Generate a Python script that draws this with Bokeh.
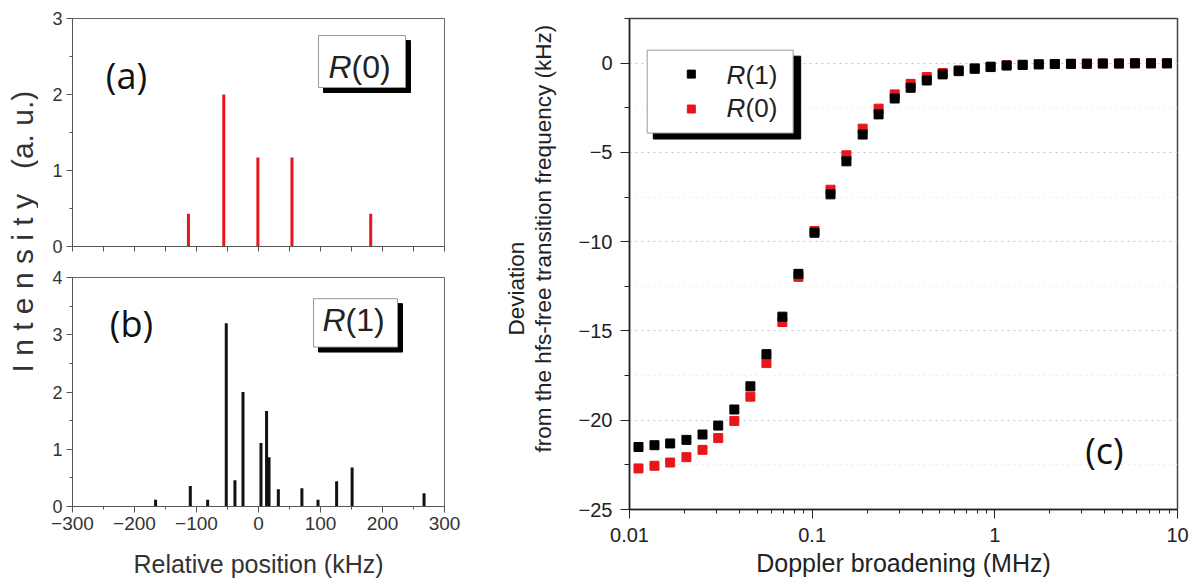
import math
from bokeh.plotting import figure
from bokeh.layouts import row, column
from bokeh.models import (Range1d, SingleIntervalTicker, LogTicker, FixedTicker,
                          NumeralTickFormatter, Label, BoxAnnotation)
from bokeh.embed import file_html
from bokeh.resources import INLINE

# ---------------- data ----------------
# (a) R(0) hyperfine components
r0_position_khz = [-113, -56, -1, 54, 181]
r0_intensity = [0.43, 2.0, 1.17, 1.17, 0.43]

# (b) R(1) hyperfine components
r1_position_khz = [-166, -110, -82, -52, -38, -25, 4, 13, 17, 32, 70, 96, 126, 151, 267]
r1_intensity = [0.12, 0.36, 0.12, 3.2, 0.46, 2.0, 1.11, 1.67, 0.86, 0.30, 0.32, 0.12, 0.44, 0.68, 0.23]

# (c) deviation vs Doppler broadening
doppler_mhz = [0.0112, 0.0137, 0.0167, 0.0205, 0.0251, 0.0306, 0.0375, 0.0459, 0.0562, 0.0687,
               0.0841, 0.103, 0.126, 0.154, 0.189, 0.231, 0.283, 0.346, 0.424, 0.518,
               0.634, 0.776, 0.948, 1.16, 1.42, 1.74, 2.13, 2.61, 3.19, 3.90,
               4.78, 5.85, 7.16, 8.75]
dev_r1_khz = [-21.5, -21.4, -21.3, -21.1, -20.8, -20.3, -19.4, -18.1, -16.3, -14.2,
              -11.8, -9.5, -7.35, -5.5, -4.0, -2.87, -1.98, -1.38, -0.97, -0.63,
              -0.45, -0.32, -0.22, -0.13, -0.10, -0.07, -0.05, -0.04, -0.03, -0.02,
              -0.02, -0.01, -0.01, -0.01]
dev_r0_khz = [-22.7, -22.55, -22.37, -22.07, -21.66, -21.0, -20.04, -18.68, -16.8, -14.5,
              -11.97, -9.4, -7.09, -5.16, -3.67, -2.55, -1.75, -1.16, -0.78, -0.55,
              -0.40, -0.28, -0.19, -0.12, -0.09, -0.06, -0.05, -0.04, -0.03, -0.02,
              -0.02, -0.01, -0.01, -0.01]

FONT = "Liberation Sans"
PANEL_FONT = "Open Sans"
RED = "#e8161b"
TOTAL_H = 581
FRAME_TOP, FRAME_BOTTOM = 18, 509   # frame of panel (c); label columns share it


def style_axis(ax, size, color, line_color, tick_out, minor_out, standoff):
    ax.major_label_text_font = FONT
    ax.major_label_text_font_size = size
    ax.major_label_text_color = color
    ax.axis_line_color = line_color
    ax.major_tick_line_color = line_color
    ax.minor_tick_line_color = line_color
    ax.major_tick_in = 0
    ax.minor_tick_in = 0
    ax.major_tick_out = tick_out
    ax.minor_tick_out = minor_out
    ax.major_label_standoff = standoff
    ax.axis_label_text_font = FONT
    ax.axis_label_text_font_style = "normal"
    ax.axis_label_text_color = color


def legend_box(p, left, right, bottom, top, dx, dy):
    p.add_layout(BoxAnnotation(left=left + dx, right=right + dx, bottom=bottom - dy, top=top - dy,
                               fill_color="black", fill_alpha=1, line_color="black", line_alpha=1))
    p.add_layout(BoxAnnotation(left=left, right=right, bottom=bottom, top=top,
                               fill_color="white", fill_alpha=1, line_color="#999999",
                               line_alpha=1, line_width=1))


def rlabel(p, x, y, digit, size, r_width):
    p.add_layout(Label(x=x, y=y, text="R", text_font=FONT, text_font_style="italic",
                       text_font_size=size, text_align="left", text_baseline="middle",
                       text_color="#222222"))
    p.add_layout(Label(x=x, y=y, x_offset=r_width, text="(" + digit + ")", text_font=FONT,
                       text_font_size=size, text_align="left", text_baseline="middle",
                       text_color="#222222"))


def label_column(width):
    # y data coordinate == pixel row of the page
    f = figure(width=width, height=TOTAL_H, x_range=Range1d(0, width),
               y_range=Range1d(FRAME_BOTTOM, FRAME_TOP),
               x_axis_type=None, y_axis_type=None, min_border_left=0, min_border_right=0,
               min_border_top=FRAME_TOP, min_border_bottom=TOTAL_H - FRAME_BOTTOM,
               outline_line_color=None, toolbar_location=None, output_backend="svg")
    return f


# ---------------- y label column ----------------
lab1 = label_column(38)
lab1.add_layout(Label(x=22, y=372, text="I n t e n s i t y\u00a0\u00a0\u00a0(a. u.)",
                      angle=math.pi / 2, text_font=FONT, text_font_size="30px",
                      text_align="left", text_baseline="middle", text_color="#333333"))

# ---------------- panel (a) ----------------
pa = figure(width=440, height=261, x_range=Range1d(-300, 300), y_range=Range1d(0, 3),
            min_border_left=34, min_border_right=34, min_border_top=18, min_border_bottom=15,
            toolbar_location=None, output_backend="svg", outline_line_color="#666666")
pa.grid.visible = False
pa.segment(x0=r0_position_khz, y0=0, x1=r0_position_khz, y1=r0_intensity,
           line_width=3, line_color=RED)
pa.xaxis.ticker = FixedTicker(ticks=[], minor_ticks=list(range(-300, 301, 50)))
pa.yaxis.ticker = SingleIntervalTicker(interval=1, num_minor_ticks=2)
style_axis(pa.xaxis[0], "18px", "#333333", "#555555", 6, 5, 0)
style_axis(pa.yaxis[0], "18px", "#333333", "#555555", 6, 3, 4)
legend_box(pa, 96.8, 237.0, 2.092, 2.776, 8.1, 0.066)
rlabel(pa, 112.9, 2.36, "0", "32px", 23)
pa.add_layout(Label(x=-213, y=2.25, text="(a)", text_font=PANEL_FONT, text_font_size="36px",
                    text_align="center", text_baseline="middle", text_color="#111111"))

# ---------------- panel (b) ----------------
pb = figure(width=440, height=TOTAL_H - 261, x_range=Range1d(-300, 300), y_range=Range1d(0, 4),
            min_border_left=34, min_border_right=34, min_border_top=16, min_border_bottom=75,
            toolbar_location=None, output_backend="svg", outline_line_color="#666666")
pb.grid.visible = False
pb.segment(x0=r1_position_khz, y0=0, x1=r1_position_khz, y1=r1_intensity,
           line_width=3, line_color="#111111")
pb.xaxis.ticker = SingleIntervalTicker(interval=100, num_minor_ticks=2)
pb.yaxis.ticker = SingleIntervalTicker(interval=1, num_minor_ticks=2)
style_axis(pb.xaxis[0], "19px", "#333333", "#555555", 6, 3, 4)
style_axis(pb.yaxis[0], "18px", "#333333", "#555555", 6, 3, 4)
pb.xaxis.axis_label = "Relative position (kHz)"
pb.xaxis.axis_label_text_font_size = "25px"
pb.xaxis.axis_label_standoff = 17
legend_box(pb, 88.7, 224.2, 2.785, 3.63, 8.1, 0.087)
rlabel(pb, 103.2, 3.25, "1", "32px", 23)
pb.add_layout(Label(x=-205, y=3.2, text="(b)", text_font=PANEL_FONT, text_font_size="36px",
                    text_align="center", text_baseline="middle", text_color="#111111"))

# ---------------- y label for (c) ----------------
lab2 = label_column(90)
lab2.add_layout(Label(x=38, y=335, text="Deviation", angle=math.pi / 2, text_font=FONT,
                      text_font_size="22.5px", text_align="left", text_baseline="middle",
                      text_color="#222222"))
lab2.add_layout(Label(x=65, y=452, text="from the hfs-free transition frequency (kHz)",
                      angle=math.pi / 2, text_font=FONT, text_font_size="22.5px",
                      text_align="left", text_baseline="middle", text_color="#222222"))

# ---------------- panel (c) ----------------
pc = figure(width=629, height=TOTAL_H, x_axis_type="log", x_range=Range1d(0.01, 10),
            y_range=Range1d(-25, 2.5),
            min_border_left=61, min_border_right=20, min_border_top=FRAME_TOP,
            min_border_bottom=TOTAL_H - FRAME_BOTTOM,
            toolbar_location=None, output_backend="svg", outline_line_color="#444444",
            outline_line_width=1.5)
pc.xgrid.visible = False
pc.yaxis.ticker = SingleIntervalTicker(interval=5, num_minor_ticks=2)
pc.xaxis.ticker = LogTicker(mantissas=[1], num_minor_ticks=10)
pc.xaxis.formatter = NumeralTickFormatter(format="0.[00]")
pc.ygrid.grid_line_color = "#c8c8c8"
pc.ygrid.grid_line_dash = "dotted"
pc.ygrid.minor_grid_line_color = "#ebebeb"
pc.ygrid.minor_grid_line_dash = "dotted"
style_axis(pc.xaxis[0], "20px", "#222222", "#222222", 9, 4, 9)
style_axis(pc.yaxis[0], "20px", "#222222", "#222222", 9, 5, 8)
pc.xaxis.axis_line_width = 1.5
pc.yaxis.axis_line_width = 1.5
pc.xaxis.axis_label = "Doppler broadening (MHz)"
pc.xaxis.axis_label_text_font_size = "25px"
pc.xaxis.axis_label_standoff = 4

pc.scatter(doppler_mhz, dev_r0_khz, marker="square", size=9, color=RED)
pc.scatter(doppler_mhz, dev_r1_khz, marker="square", size=9, color="black")

# legend of (c): shadow, box, markers, texts
pc.quad(left=[0.0135], right=[0.0865], bottom=[-4.25], top=[0.39],
        fill_color="black", line_color="black")
pc.quad(left=[0.0125], right=[0.0787], bottom=[-3.915], top=[0.727],
        fill_color="white", line_color="#999999", line_width=1)
pc.scatter([0.0218], [-0.615], marker="square", size=8, color="black")
pc.scatter([0.0218], [-2.57], marker="square", size=8, color=RED)
rlabel(pc, 0.034, -0.67, "1", "26px", 19)
rlabel(pc, 0.034, -2.54, "0", "26px", 19)
pc.add_layout(Label(x=3.98, y=-21.7, text="(c)", text_font=PANEL_FONT, text_font_size="36px",
                    text_align="center", text_baseline="middle", text_color="#111111"))

layout = row(lab1, column(pa, pb), lab2, pc)
open("out.html", "w").write(file_html(layout, INLINE))
